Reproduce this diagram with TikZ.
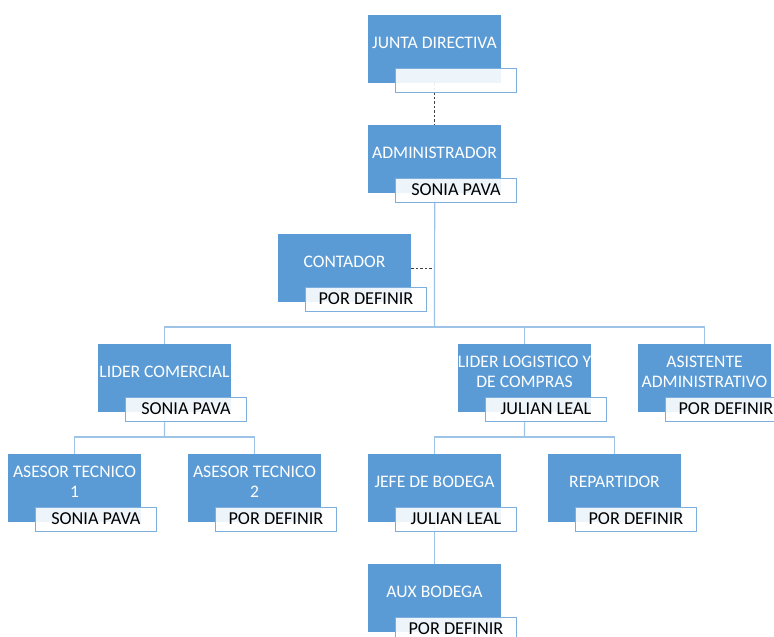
\documentclass[tikz,border=0pt]{standalone}
\usepackage{fontspec}
\setmainfont{Carlito}
\definecolor{roleblue}{HTML}{5B9BD5}
\definecolor{linkblue}{HTML}{9DC3E6}
\definecolor{namebord}{HTML}{7EAEDD}
\tikzset{
  role/.style={fill=roleblue, draw=none, minimum width=133pt, minimum height=68pt,
               anchor=north west, inner sep=0pt},
  roletitle/.style={text=white, font=\fontsize{17.6}{19.5}\selectfont, align=center,
                    anchor=center, inner sep=0pt},
  person/.style={draw=namebord, line width=0.8pt, fill=white, fill opacity=0.9, text opacity=1,
                 minimum width=121pt, minimum height=23.5pt, anchor=north west, inner sep=0pt,
                 font=\fontsize{18.2}{20}\selectfont, text=black},
  link/.style={draw=linkblue, line width=1.2pt},
  dotlink/.style={draw=black!75, line width=0.7pt, dash pattern=on 2.5pt off 2pt}
}
% one position: role box at (x,y), title centred above its name tag
\newcommand\orgunit[4]{%
  \node[role] (#1) at (#2,#3) {};
  \node[roletitle] (#1T) at (#2+66.5,#3+28) {#4};
  \coordinate (#1P) at (#2+27,#3+53);
}
\newcommand\nametag[2]{\node[person] (#1N) at (#1P) {#2};}
\begin{document}
\begin{tikzpicture}[x=1pt,y=-1pt]
\clip (0,0) rectangle (774,637);
\fill[white] (0,0) rectangle (774,637);

% connector junctions
\coordinate (busA) at (434.5,327);
\coordinate (busB) at (164.5,437);
\coordinate (busC) at (524.5,437);

% role boxes
\orgunit{jun}{368}{15}{JUNTA DIRECTIVA}
\orgunit{adm}{368}{125}{ADMINISTRADOR}
\orgunit{con}{278}{234}{CONTADOR}
\orgunit{com}{98}{344}{LIDER COMERCIAL}
\orgunit{log}{458}{344}{LIDER LOGISTICO Y\\DE COMPRAS}
\orgunit{asi}{638}{344}{ASISTENTE\\ADMINISTRATIVO}
\orgunit{as1}{8}{454}{ASESOR TECNICO\\1}
\orgunit{as2}{188}{454}{ASESOR TECNICO\\2}
\orgunit{jef}{368}{454}{JEFE DE BODEGA}
\orgunit{rep}{548}{454}{REPARTIDOR}
\orgunit{aux}{368}{564}{AUX BODEGA}

% connectors
\draw[dotlink] (jun.south) -- (adm.north);
\draw[dotlink] (con.east) -- (con.east -| adm.south);
\draw[link] (adm.south) -- (busA);
\draw[link] (com.north) -- (com.north |- busA) -- (asi.north |- busA) -- (asi.north);
\draw[link] (log.north) -- (log.north |- busA);
\draw[link] (com.south) -- (busB);
\draw[link] (as1.north) -- (as1.north |- busB) -- (as2.north |- busB) -- (as2.north);
\draw[link] (log.south) -- (busC);
\draw[link] (jef.north) -- (jef.north |- busC) -- (rep.north |- busC) -- (rep.north);
\draw[link] (jef.south) -- (aux.north);

% name tags
\nametag{jun}{}
\nametag{adm}{SONIA PAVA}
\nametag{con}{POR DEFINIR}
\nametag{com}{SONIA PAVA}
\nametag{log}{JULIAN LEAL}
\nametag{asi}{POR DEFINIR}
\nametag{as1}{SONIA PAVA}
\nametag{as2}{POR DEFINIR}
\nametag{jef}{JULIAN LEAL}
\nametag{rep}{POR DEFINIR}
\nametag{aux}{POR DEFINIR}
\end{tikzpicture}
\end{document}
